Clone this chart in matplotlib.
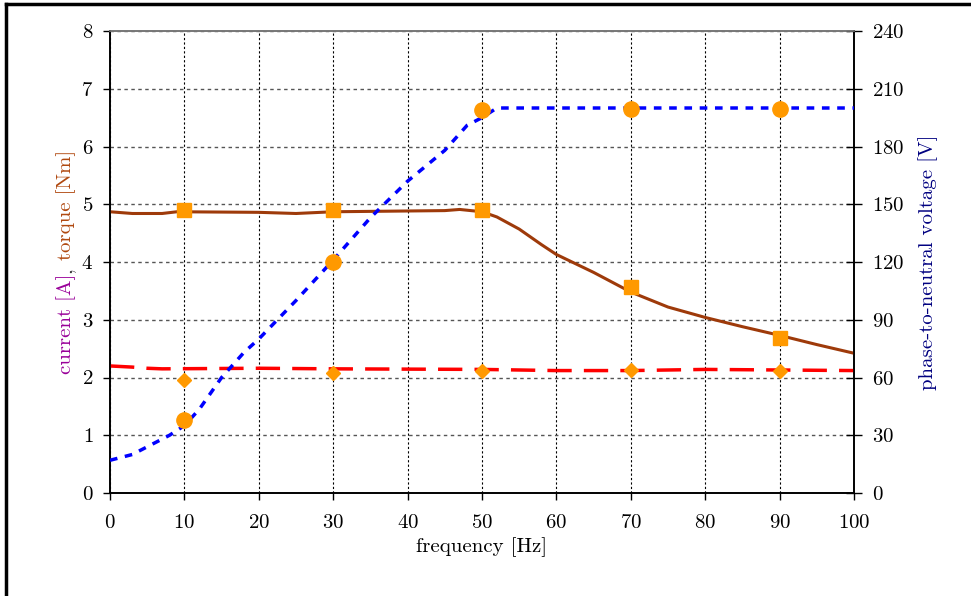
import matplotlib
matplotlib.use("Agg")
import matplotlib.pyplot as plt
from matplotlib.lines import Line2D
import numpy as np

plt.rcParams['font.family'] = ['cmr10', 'DejaVu Serif']
plt.rcParams['axes.formatter.use_mathtext'] = True
plt.rcParams['font.size'] = 14

# simulated curves
freq_u = [0, 3, 6, 8, 10, 12, 15, 18, 20, 25, 30, 35, 40, 45, 48, 50, 52, 60, 70, 80, 90, 100]
voltage = [17, 20, 26, 30, 35, 43.5, 60, 73, 80, 100, 121, 143, 162, 178, 191, 195, 200,
           200, 200, 200, 200, 200]

freq_t = [0, 3, 7, 9, 20, 25, 30, 45, 47, 50, 52, 55, 58, 60, 65, 70, 75, 80, 85, 90, 95, 100]
torque = [4.87, 4.84, 4.84, 4.87, 4.86, 4.84, 4.87, 4.89, 4.91, 4.87, 4.78, 4.57, 4.3, 4.13,
          3.82, 3.48, 3.22, 3.04, 2.88, 2.73, 2.57, 2.42]

freq_i = [0, 3, 5, 7, 20, 30, 50, 60, 70, 80, 100]
current = [2.2, 2.18, 2.16, 2.15, 2.16, 2.15, 2.14, 2.12, 2.12, 2.14, 2.12]

# measured points
freq_m = [10, 30, 50, 70, 90]
torque_m = [4.9, 4.9, 4.9, 3.56, 2.68]
current_m = [1.95, 2.07, 2.12, 2.13, 2.12]
voltage_m = [38, 120, 199, 199.5, 199.5]

orange = '#FF9900'

fig = plt.figure(figsize=(9.71, 5.96), dpi=100)
ax1 = fig.add_axes([110/971, 1-493/596, (854-110)/971, (493-31)/596])
ax2 = ax1.twinx()

ax1.plot(freq_t, torque, color='#9E3A0A', lw=2.2, zorder=3)
ax1.plot(freq_i, current, color='#FF0000', lw=2.5, dashes=(7, 3.5), zorder=3)
ax2.plot(freq_u, voltage, color='#0000FF', lw=2.5, dashes=(2.2, 2.2), zorder=3)

ax1.plot(freq_m, torque_m, 's', color=orange, ms=10, zorder=5, clip_on=False)
ax1.plot(freq_m, current_m, 'D', color=orange, ms=7.5, zorder=5, clip_on=False)
ax2.plot(freq_m, voltage_m, 'o', color=orange, ms=11, zorder=5, clip_on=False)

ax1.set_xlim(0, 100)
ax1.set_ylim(0, 8)
ax2.set_ylim(0, 240)
ax1.set_xticks(np.arange(0, 101, 10))
ax1.set_yticks(np.arange(0, 9, 1))
ax2.set_yticks(np.arange(0, 241, 30))

ax1.grid(True, axis='x', color='black', ls=(0, (2, 2)), lw=0.8)
ax1.grid(True, axis='y', color='#555555', ls=(0, (2.5, 2.5)), lw=1.0)
ax1.set_axisbelow(True)

ax1.tick_params(axis='both', direction='out', length=5, width=1, pad=7, labelsize=15)
ax2.tick_params(axis='y', direction='inout', length=12, width=1, pad=7, labelsize=15)
ax1.tick_params(axis='x', pad=10)

for ax in (ax1, ax2):
    ax.spines['top'].set_color('#777777')
    ax.spines['top'].set_linewidth(1.2)
    ax.spines['left'].set_linewidth(1.2)
    ax.spines['right'].set_linewidth(1.2)
    ax.spines['bottom'].set_linewidth(1.2)

ax1.set_xlabel('frequency [Hz]', fontsize=15, labelpad=4)
ax2.set_ylabel('phase-to-neutral voltage [V]', fontsize=15, color='#000080', labelpad=10)

# multicoloured left label
fig.canvas.draw()
renderer = fig.canvas.get_renderer()
x_lab = 66 / 971
y_pos = 1 - 374 / 596
parts = [('current [A]', '#990099'), (',', '#333333'), ('torque [Nm]', '#B0480F')]
for i, (txt, col) in enumerate(parts):
    t = fig.text(x_lab, y_pos, txt, rotation=90, ha='center', va='bottom',
                 color=col, fontsize=15)
    bb = t.get_window_extent(renderer)
    y_pos += bb.height / fig.bbox.height + (7 / 596 if i == 1 else 1 / 596)

# frame lines of the original picture
fig.add_artist(Line2D([6/971, 6/971], [0, 1 - 4/596], color='black', lw=2.5,
                      transform=fig.transFigure))
fig.add_artist(Line2D([6/971, 1], [1 - 4/596, 1 - 4/596], color='black', lw=2.5,
                      transform=fig.transFigure))

fig.savefig('out.png', dpi=100)
